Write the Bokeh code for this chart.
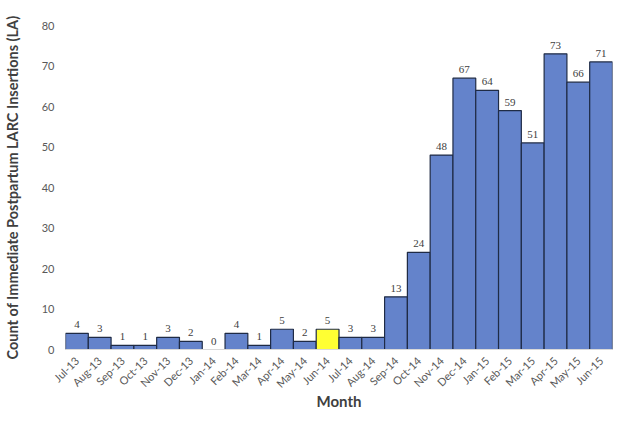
from bokeh.plotting import figure
from bokeh.models import ColumnDataSource, LabelSet, FactorRange, Range1d
from bokeh.embed import file_html
from bokeh.resources import INLINE
from math import pi

months = ["Jul-13", "Aug-13", "Sep-13", "Oct-13", "Nov-13", "Dec-13", "Jan-14", "Feb-14",
          "Mar-14", "Apr-14", "May-14", "Jun-14", "Jul-14", "Aug-14", "Sep-14", "Oct-14",
          "Nov-14", "Dec-14", "Jan-15", "Feb-15", "Mar-15", "Apr-15", "May-15", "Jun-15"]
counts = [4, 3, 1, 1, 3, 2, 0, 4, 1, 5, 2, 5, 3, 3, 13, 24, 48, 67, 64, 59, 51, 73, 66, 71]
highlight_month = "Jun-14"
y_ticks = [0, 10, 20, 30, 40, 50, 60, 70, 80]
x_title = "Month"
y_title = "Count of Immediate Postpartum LARC Insertions (LA)"

BLUE = "#6483CB"
YELLOW = "#FFFF33"
colors = [YELLOW if m == highlight_month else BLUE for m in months]

src = ColumnDataSource(dict(month=months, count=counts, color=colors,
                            label=[str(c) for c in counts]))

FONT = "Lato"
p = figure(width=616, height=413, x_range=FactorRange(*months, range_padding=0),
           y_range=Range1d(0, 80), output_backend="svg", toolbar_location=None,
           min_border_left=62, min_border_right=4, min_border_top=25, min_border_bottom=50)

nonzero = ColumnDataSource(dict(month=[m for m, c in zip(months, counts) if c > 0],
                                count=[c for c in counts if c > 0],
                                color=[col for col, c in zip(colors, counts) if c > 0]))
p.vbar(x="month", top="count", width=1.0, source=nonzero, fill_color="color",
       line_color="#1F2B45", line_width=1.2)

labels = LabelSet(x="month", y="count", text="label", source=src, y_offset=5,
                  text_align="center", text_baseline="bottom", text_font_size="11px",
                  text_color="#404040", text_font=FONT)
p.add_layout(labels)

p.xgrid.visible = False
p.ygrid.visible = False
p.outline_line_color = None
p.background_fill_color = "white"
p.border_fill_color = "white"

p.yaxis.ticker = y_ticks
p.yaxis.axis_line_color = None
p.yaxis.major_tick_line_color = None
p.yaxis.minor_tick_line_color = None
p.yaxis.major_label_text_color = "#595959"
p.yaxis.major_label_text_font = FONT
p.yaxis.major_label_text_font_size = "11px"
p.yaxis.axis_label = y_title
p.yaxis.axis_label_text_font = FONT
p.yaxis.axis_label_text_font_style = "bold"
p.yaxis.axis_label_text_font_size = "14.5px"
p.yaxis.axis_label_text_color = "#404040"
p.yaxis.axis_label_standoff = 18

p.xaxis.axis_line_color = "#D9D9D9"
p.xaxis.major_tick_line_color = None
p.xaxis.minor_tick_line_color = None
p.xaxis.major_label_orientation = pi / 4
p.xaxis.major_label_standoff = 3
p.xaxis.major_label_text_color = "#595959"
p.xaxis.major_label_text_font = FONT
p.xaxis.major_label_text_font_size = "11px"
p.xaxis.axis_label = x_title
p.xaxis.axis_label_text_font = FONT
p.xaxis.axis_label_text_font_style = "bold"
p.xaxis.axis_label_text_font_size = "15px"
p.xaxis.axis_label_text_color = "#404040"
p.xaxis.axis_label_standoff = -5

open("out.html", "w").write(file_html(p, INLINE))
